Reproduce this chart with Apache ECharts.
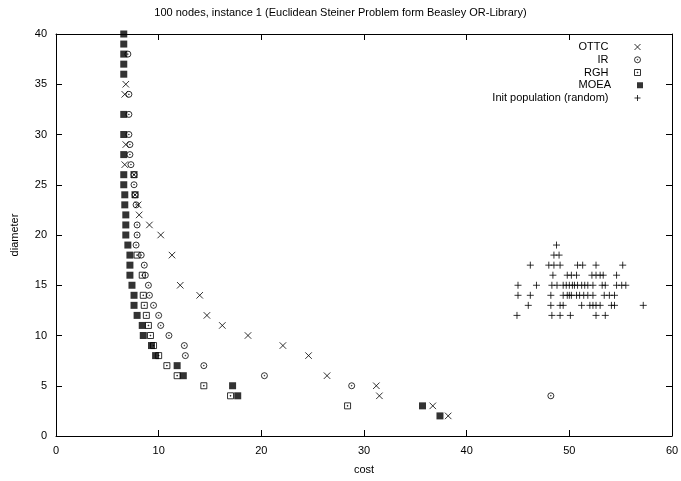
<!DOCTYPE html>
<html>
<head>
<meta charset="utf-8">
<title>100 nodes, instance 1</title>
<script src="https://cdn.jsdelivr.net/npm/echarts@6/dist/echarts.min.js"></script>
</head>
<body style="margin:0">
<div id="main" style="width:681px;height:481px;"></div>
<script type="text/javascript">
// [cost, diameter] pairs
var ottc = [[6.8,35],[6.7,34],[6.8,29],[6.7,27],[7.6,26],[7.7,24],[8.0,23],[8.1,22],[9.1,21],[10.2,20],
    [11.3,18],[12.1,15],[14.0,14],[14.7,12],[16.2,11],[18.7,10],[22.1,9],[24.6,8],[26.4,6],[31.2,5],
    [31.5,4],[36.7,3],[38.2,2]];
var ir = [[7.0,38],[7.1,34],[7.1,32],[7.1,30],[7.2,29],[7.2,28],[7.3,27],[7.6,26],[7.6,25],[7.7,24],
    [7.8,23],[7.9,21],[7.9,20],[7.8,19],[8.3,18],[8.6,17],[8.7,16],[9.0,15],[9.1,14],[9.5,13],
    [10.0,12],[10.2,11],[11.0,10],[12.5,9],[12.6,8],[14.4,7],[20.3,6],[28.8,5],[48.2,4]];
var rgh = [[7.6,26],[7.7,24],[7.9,18],[8.4,16],[8.5,14],[8.6,13],[8.8,12],[9.0,11],[9.2,10],[9.5,9],
    [10.0,8],[10.8,7],[11.8,6],[14.4,5],[17.0,4],[28.4,3]];
var moea = [[6.6,40],[6.6,39],[6.6,38],[6.6,37],[6.6,36],[6.6,32],[6.6,30],[6.6,28],[6.6,26],[6.6,25],
    [6.7,24],[6.7,23],[6.8,22],[6.8,21],[6.8,20],[7.0,19],[7.2,18],[7.2,17],[7.2,16],[7.4,15],
    [7.6,14],[7.6,13],[7.9,12],[8.4,11],[8.5,10],[9.3,9],[9.7,8],[11.8,7],[12.4,6],[17.2,5],
    [17.7,4],[35.7,3],[37.4,2]];
var initPop = [[48.75,19],
    [48.5,18],[49.0,18],
    [46.2,17],[48.0,17],[48.5,17],[49.1,17],[50.8,17],[51.3,17],[52.6,17],[55.2,17],
    [48.4,16],[49.8,16],[50.2,16],[50.7,16],[52.2,16],[52.6,16],[53.0,16],[53.3,16],[54.6,16],
    [45.0,15],[46.8,15],[48.3,15],[48.8,15],[49.4,15],[49.7,15],[50.0,15],[50.3,15],[50.5,15],[50.8,15],
    [51.2,15],[51.5,15],[51.8,15],[52.3,15],[53.2,15],[53.5,15],[54.6,15],[55.1,15],[55.5,15],
    [45.0,14],[46.2,14],[48.2,14],[49.4,14],[49.8,14],[50.0,14],[50.2,14],[50.7,14],[51.0,14],[51.4,14],
    [51.8,14],[52.3,14],[53.4,14],[53.9,14],[54.4,14],
    [46.0,13],[48.2,13],[49.1,13],[49.4,13],[51.2,13],[52.0,13],[52.3,13],[52.6,13],[53.0,13],[54.1,13],
    [54.4,13],[57.2,13],
    [44.9,12],[48.3,12],[49.1,12],[50.1,12],[52.6,12],[53.5,12]];
var seriesNames = ['OTTC', 'IR', 'RGH', 'MOEA', 'Init population (random)'];
var xTicks = {min: 0, max: 60, interval: 10};
var yTicks = {min: 0, max: 40, interval: 5};

var font = 'Liberation Sans, Arial, Helvetica, sans-serif';
var crossIcon = 'path://M0,0L10,10M10,0L0,10';
var circleDotIcon = 'path://M10,5A5,5,0,1,0,0,5A5,5,0,1,0,10,5ZM5.6,5A0.6,0.6,0,1,0,4.4,5A0.6,0.6,0,1,0,5.6,5Z';
var squareDotIcon = 'path://M0,0L10,0L10,10L0,10ZM4.4,4.4L5.6,4.4L5.6,5.6L4.4,5.6Z';
var boxIcon = 'path://M0,0L10,0L10,10L0,10Z';
var plusIcon = 'path://M5,0L5,10M0,5L10,5';
var icons = [crossIcon, circleDotIcon, squareDotIcon, boxIcon, plusIcon];
var sizes = [6.5, 6, 6, 7, 7];
var datas = [ottc, ir, rgh, moea, initPop];

function lineStyle(filled) {
    return filled ? {color: '#000', borderWidth: 0}
                  : {color: 'none', borderColor: '#000', borderWidth: 1};
}

var series = [];
var legends = [];
for (var i = 0; i < seriesNames.length; i++) {
    var filled = (i == 3);
    series.push({
        name: seriesNames[i],
        type: 'scatter',
        data: datas[i],
        symbol: icons[i],
        symbolSize: sizes[i],
        symbolKeepAspect: true,
        itemStyle: lineStyle(filled),
        emphasis: {disabled: true},
        animation: false
    });
    legends.push({
        data: [{name: seriesNames[i], icon: icons[i]}],
        orient: 'horizontal',
        align: 'right',
        right: 38,
        top: 41.5 + i * 12.75,
        padding: 0,
        itemGap: 0,
        itemWidth: 48,
        itemHeight: 6,
        symbolKeepAspect: true,
        selectedMode: false,
        itemStyle: lineStyle(filled),
        textStyle: {fontFamily: font, fontSize: 11, color: '#000'}
    });
}

function valueAxis(pos, lim, show) {
    return {
        type: 'value',
        position: pos,
        min: lim.min, max: lim.max, interval: lim.interval,
        axisLine: {show: true, onZero: false, lineStyle: {color: '#000', width: 1}},
        axisTick: {show: true, inside: true, length: 6, lineStyle: {color: '#000'}},
        axisLabel: {show: show, color: '#000', fontFamily: font, fontSize: 11, margin: 9},
        splitLine: {show: false}
    };
}

var xBottom = valueAxis('bottom', xTicks, true);
xBottom.name = 'cost';
xBottom.nameLocation = 'middle';
xBottom.nameGap = 28;
xBottom.nameTextStyle = {color: '#000', fontFamily: font, fontSize: 11};
var yLeft = valueAxis('left', yTicks, true);
yLeft.name = 'diameter';
yLeft.nameLocation = 'middle';
yLeft.nameGap = 36;
yLeft.nameRotate = 90;
yLeft.nameTextStyle = {color: '#000', fontFamily: font, fontSize: 11};

var myChart = echarts.init(document.getElementById('main'), null, {renderer: 'canvas'});
myChart.setOption({
    animation: false,
    backgroundColor: '#fff',
    title: {
        text: '100 nodes, instance 1 (Euclidean Steiner Problem form Beasley OR-Library)',
        left: 'center',
        top: 2,
        textStyle: {fontFamily: font, fontSize: 11, fontWeight: 'normal', color: '#000'}
    },
    legend: legends,
    grid: {left: 56, right: 9, top: 34, bottom: 45, containLabel: false, outerBoundsMode: 'none'},
    xAxis: [xBottom, valueAxis('top', xTicks, false)],
    yAxis: [yLeft, valueAxis('right', yTicks, false)],
    series: series
});
</script>
</body>
</html>
